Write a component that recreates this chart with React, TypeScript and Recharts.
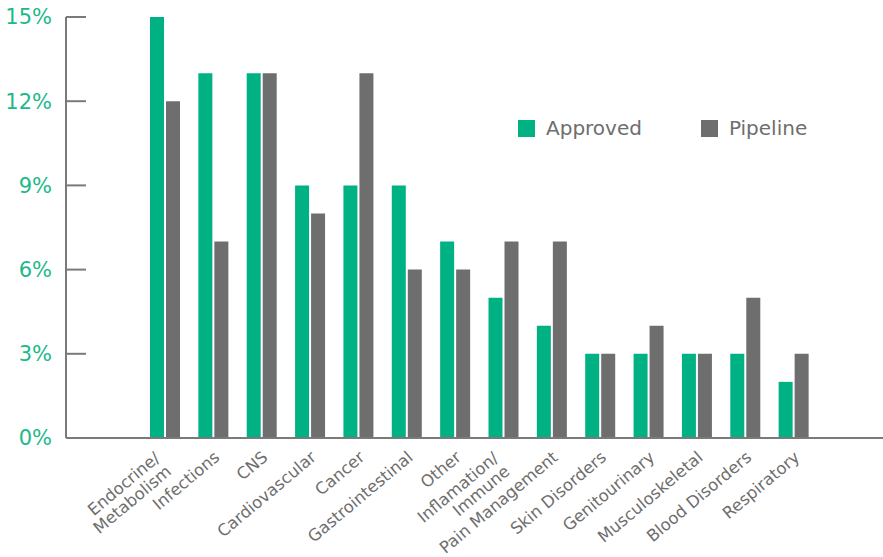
import { Bar, BarChart, Legend, XAxis, YAxis } from 'recharts';

const categories = [
  'Endocrine/\nMetabolism',
  'Infections',
  'CNS',
  'Cardiovascular',
  'Cancer',
  'Gastrointestinal',
  'Other',
  'Inflamation/\nImmune',
  'Pain Management',
  'Skin Disorders',
  'Genitourinary',
  'Musculoskeletal',
  'Blood Disorders',
  'Respiratory',
];
const approved = [15, 13, 13, 9, 9, 9, 7, 5, 4, 3, 3, 3, 3, 2];
const pipeline = [12, 7, 13, 8, 13, 6, 6, 7, 7, 3, 4, 3, 5, 3];
const yTicks = [0, 3, 6, 9, 12, 15];

const GREEN = '#00b283';
const GRAY = '#6e6e6e';
const FONT = '"DejaVu Sans", sans-serif';

const data = categories.map((name, i) => ({
  name,
  approved: approved[i],
  pipeline: pipeline[i],
}));

// rotated category label, multi-line ones split on \n
const CategoryTick = ({ x, y, payload }: any) => {
  const lines = String(payload.value).split('\n');
  const multi = lines.length > 1;
  return (
    <g transform={`translate(${x + 7},${y + 13}) rotate(-40)`}>
      <text textAnchor="end" fill={GRAY} fontSize={16.5} fontFamily={FONT}>
        {lines.map((line, i) => (
          <tspan
            key={i}
            x={multi ? -9 : 0}
            dy={multi ? (i === 0 ? -6.5 : 17.5) : 0}
          >
            {line}
          </tspan>
        ))}
      </text>
    </g>
  );
};

const LegendContent = ({ payload }: any) => (
  <div style={{ display: 'flex', fontFamily: FONT, fontSize: 20, color: GRAY }}>
    {(payload || []).map((entry: any, i: number) => (
      <div
        key={entry.value}
        style={{ display: 'flex', alignItems: 'center', marginRight: i === 0 ? 59 : 0 }}
      >
        <span
          style={{
            width: 17,
            height: 17,
            background: entry.color,
            display: 'inline-block',
            marginRight: 11,
          }}
        />
        {entry.value}
      </div>
    ))}
  </div>
);

export default function App() {
  return (
    <div style={{ position: 'absolute', left: 0, top: 0, width: 883, height: 557, background: '#fff' }}>
      <BarChart
        width={883}
        height={557}
        data={data}
        margin={{ top: 17, right: 0, left: 0, bottom: 0 }}
        barSize={14}
        barGap={2}
      >
        <XAxis
          dataKey="name"
          height={119}
          interval={0}
          padding={{ left: 75, right: 65 }}
          axisLine={{ stroke: '#7a7a7a', strokeWidth: 2 }}
          tickLine={false}
          tick={<CategoryTick />}
        />
        <YAxis
          width={66}
          domain={[0, 15]}
          ticks={yTicks}
          interval={0}
          tickFormatter={(v) => `${v}%`}
          axisLine={{ stroke: '#7a7a7a', strokeWidth: 2 }}
          tickLine={{ stroke: '#7a7a7a', strokeWidth: 2 }}
          tickSize={-20}
          tickMargin={34}
          tick={{ fill: '#1cb98b', fontSize: 21, fontFamily: FONT }}
        />
        <Legend
          layout="horizontal"
          verticalAlign="middle"
          align="center"
          wrapperStyle={{ top: 116, left: 518, width: 340 }}
          content={<LegendContent />}
        />
        <Bar dataKey="approved" name="Approved" fill={GREEN} isAnimationActive={false} />
        <Bar dataKey="pipeline" name="Pipeline" fill={GRAY} isAnimationActive={false} />
      </BarChart>
    </div>
  );
}
